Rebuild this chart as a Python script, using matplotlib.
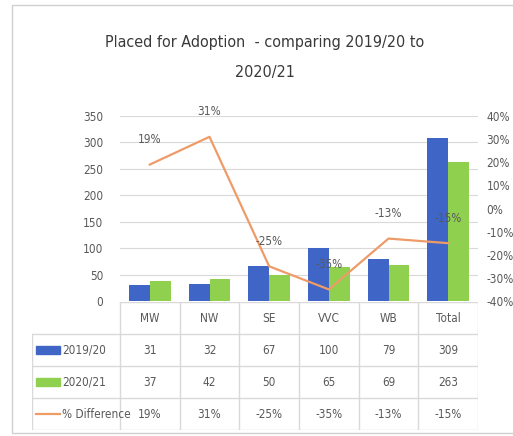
import matplotlib.pyplot as plt
from matplotlib.patches import Rectangle
from matplotlib.lines import Line2D
from matplotlib.ticker import FuncFormatter

plt.rcParams['font.family'] = ['DejaVu Sans']
plt.rcParams['font.stretch'] = 'condensed'

categories = ['MW', 'NW', 'SE', 'VVC', 'WB', 'Total']
placed_1920 = [31, 32, 67, 100, 79, 309]
placed_2021 = [37, 42, 50, 65, 69, 263]
pct_diff = [19, 31, -25, -35, -13, -15]
series_names = ['2019/20', '2020/21', '% Difference']

BLUE = '#3f66c6'
GREEN = '#8fd14f'
ORANGE = '#ee9b68'
GREY = '#595959'
LINE = '#d9d9d9'

fig = plt.figure(figsize=(5.13, 4.36), dpi=100)
fig.patches.append(Rectangle((12/513, 3/436), 1.0, 428/436, transform=fig.transFigure,
                             fill=False, edgecolor='#d0d0d0', linewidth=1))

fig.text(265/513, 1-42/436, 'Placed for Adoption  - comparing 2019/20 to', ha='center', va='center',
         fontsize=11.5, color='#3a3a3a')
fig.text(265/513, 1-72/436, '2020/21', ha='center', va='center', fontsize=11.5, color='#3a3a3a')

ax = fig.add_axes([120/513, 1-301/436, 358/513, 185/436])
x = list(range(len(categories)))
w = 0.35
ax.bar([i - w/2 for i in x], placed_1920, width=w, color=BLUE, zorder=2)
ax.bar([i + w/2 for i in x], placed_2021, width=w, color=GREEN, zorder=2)
ax.set_xlim(-0.5, 5.5)
ax.set_ylim(0, 350)
ax.set_yticks(range(0, 351, 50))
ax.grid(axis='y', color=LINE, linewidth=0.8, zorder=0)
ax.set_xticks([])
for s in ax.spines.values():
    s.set_visible(False)
ax.tick_params(axis='y', length=0, labelsize=8.5, labelcolor=GREY, pad=12)

ax2 = ax.twinx()
ax2.plot(x, pct_diff, color=ORANGE, linewidth=1.6, zorder=3)
ax2.set_ylim(-40, 40)
ax2.set_yticks(range(-40, 41, 10))
ax2.yaxis.set_major_formatter(FuncFormatter(lambda v, p: '%d%%' % v))
ax2.tick_params(axis='y', length=0, labelsize=8.5, labelcolor=GREY, pad=6)
for s in ax2.spines.values():
    s.set_visible(False)
for i, v in enumerate(pct_diff):
    ax2.annotate('%d%%' % v, (i, v), xytext=(0, 18), textcoords='offset points',
                 ha='center', va='center', fontsize=8.5, color=GREY)

# data table
col_w = 358 / 6
x0 = -0.5 - 88 / col_w
tb = fig.add_axes([32/513, 1-430/436, 446/513, 128/436])
tb.set_xlim(x0, 5.5)
tb.set_ylim(4, 0)
tb.axis('off')
for k in range(7):
    tb.plot([k - 0.5, k - 0.5], [0, 4], color=LINE, linewidth=1)
tb.plot([x0, x0], [1, 4], color=LINE, linewidth=1)
tb.plot([-0.5, 5.5], [0, 0], color=LINE, linewidth=1)
for r in range(1, 5):
    tb.plot([x0, 5.5], [r, r], color=LINE, linewidth=1)
for i, c in enumerate(categories):
    tb.text(i, 0.5, c, ha='center', va='center', fontsize=8.5, color=GREY)
rows = [placed_1920, placed_2021, ['%d%%' % v for v in pct_diff]]
for r, vals in enumerate(rows):
    for i, v in enumerate(vals):
        tb.text(i, r + 1.5, str(v), ha='center', va='center', fontsize=8.5, color=GREY)
kx = x0 + 4 / col_w
kw = 24 / col_w
tb.add_patch(Rectangle((kx, 1.39), kw, 0.22, color=BLUE))
tb.add_patch(Rectangle((kx, 2.39), kw, 0.22, color=GREEN))
tb.add_line(Line2D([kx, kx + kw], [3.5, 3.5], color=ORANGE, linewidth=1.6))
tx = kx + kw + 2 / col_w
for r, name in enumerate(series_names):
    tb.text(tx, r + 1.5, name, va='center', fontsize=8.5, color=GREY)

fig.savefig('out.png', dpi=100)
